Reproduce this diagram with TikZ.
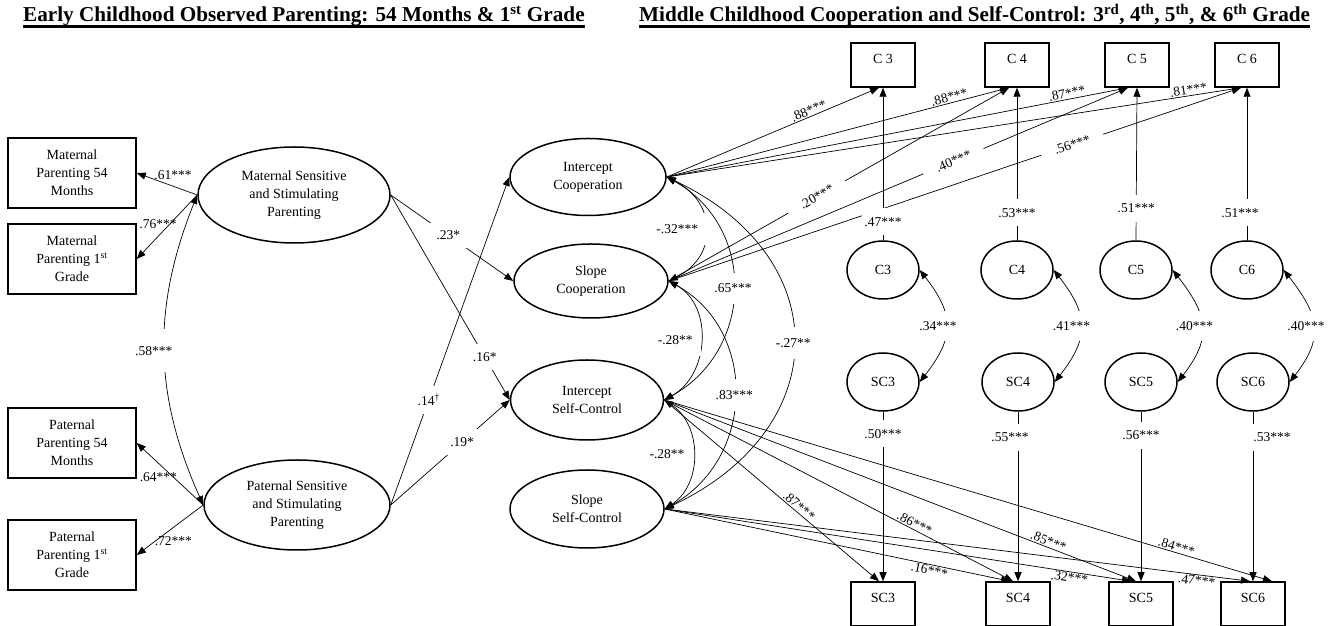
\documentclass[tikz,border=0pt]{standalone}
\usepackage{fontspec}
\setmainfont{Liberation Serif}
\usetikzlibrary{shapes.geometric, arrows.meta, positioning}

\begin{document}
\begin{tikzpicture}[x=1pt, y=1pt,
    heading/.style={font=\fontsize{21.2}{24}\selectfont\bfseries, inner sep=0pt},
    meas/.style={draw, line width=1.5pt, minimum width=128pt, minimum height=70pt, align=center, inner sep=0pt, font=\fontsize{14}{18}\selectfont},
    ind/.style={draw, line width=1.5pt, minimum width=64pt, minimum height=44pt, inner sep=0pt, text depth=13pt, font=\fontsize{14}{18}\selectfont},
    fac/.style={draw, line width=1.5pt, ellipse, align=center, inner sep=0pt, font=\fontsize{14}{18}\selectfont},
    res/.style={draw, line width=1.5pt, ellipse, minimum width=72pt, minimum height=58pt, inner sep=0pt, font=\fontsize{14}{18}\selectfont},
    arr/.style={-{Triangle[length=9pt,width=7pt]}, line width=0.7pt},
    cov/.style={{Triangle[length=9pt,width=7pt]}-{Triangle[length=9pt,width=7pt]}, line width=0.7pt},
    coef/.style={font=\fontsize{13.5}{15}\selectfont, inner sep=1pt},
    gap/.style={coef, fill=white, inner sep=8pt},
    gapc/.style={coef, fill=white, inner xsep=3pt, inner ysep=11pt},
    gapl/.style={coef, fill=white, inner xsep=14pt, inner ysep=2pt},
    gapv/.style={coef, fill=white, inner xsep=2pt, inner ysep=9pt}
  ]
  \useasboundingbox (0,0) rectangle (1328,626);

  % Headings
  \node[heading, anchor=base west] (t1) at (23,604) {Early Childhood Observed Parenting: 54 Months \& 1\textsuperscript{st} Grade};
  \node[heading, anchor=base west] (t2) at (639,604) {Middle Childhood Cooperation and Self-Control: 3\textsuperscript{rd}, 4\textsuperscript{th}, 5\textsuperscript{th}, \& 6\textsuperscript{th} Grade};
  \draw[line width=2.4pt] ([yshift=-4.5pt]t1.base west) -- ([yshift=-4.5pt]t1.base east);
  \draw[line width=2.4pt] ([yshift=-4.5pt]t2.base west) -- ([yshift=-4.5pt]t2.base east);

  % Observed parenting
  \node[meas] (m54) at (72,453) {Maternal\\Parenting 54\\Months};
  \node[meas] (m1) at (72,367) {Maternal\\Parenting 1\textsuperscript{st}\\Grade};
  \node[meas] (p54) at (72,183) {Paternal\\Parenting 54\\Months};
  \node[meas] (p1) at (72,71) {Paternal\\Parenting 1\textsuperscript{st}\\Grade};

  % Parenting factors
  \node[fac, minimum width=192pt, minimum height=96pt] (mat) at (294,431) {Maternal Sensitive\\and Stimulating\\Parenting};
  \node[fac, minimum width=186pt, minimum height=90pt] (pat) at (297,121) {Paternal Sensitive\\and Stimulating\\Parenting};

  % Growth factors
  \node[fac, minimum width=156pt, minimum height=77pt] (ic) at (588,449) {Intercept\\Cooperation};
  \node[fac, minimum width=154pt, minimum height=74pt] (scoop) at (591,345) {Slope\\Cooperation};
  \node[fac, minimum width=153pt, minimum height=80pt] (isc) at (587,226) {Intercept\\Self-Control};
  \node[fac, minimum width=154pt, minimum height=78pt] (ssc) at (587,117) {Slope\\Self-Control};

  % Indicators and residuals
  \node[ind] (c3) at (883,561) {C 3};
  \node[ind] (c4) at (1017,561) {C 4};
  \node[ind] (c5) at (1137,561) {C 5};
  \node[ind] (c6) at (1247,561) {C 6};
  \node[res] (e3) at (883,356) {C3};
  \node[res] (e4) at (1017,356) {C4};
  \node[res] (e5) at (1136,356) {C5};
  \node[res] (e6) at (1247,356) {C6};
  \node[res] (s3) at (883,244) {SC3};
  \node[res] (s4) at (1018,244) {SC4};
  \node[res] (s5) at (1141,244) {SC5};
  \node[res] (s6) at (1253,244) {SC6};
  \node[ind] (sc3) at (883,22) {SC3};
  \node[ind] (sc4) at (1018,22) {SC4};
  \node[ind] (sc5) at (1141,22) {SC5};
  \node[ind] (sc6) at (1253,22) {SC6};

  % Loadings of parenting
  \draw[arr] (mat.west) -- (m54.east) node[coef, pos=.4, above=5pt] {.61***};
  \draw[arr] (mat.west) -- (m1.east) node[coef, pos=.45, xshift=-12pt] {.76***};
  \draw[arr] (pat.west) -- (p54.east) node[coef, pos=.45, xshift=-15pt] {.64***};
  \draw[arr] (pat.west) -- (p1.east) node[coef, pos=.45, below=8pt] {.72***};
  \draw[cov] (mat.west) to[bend right=23] node[gap, midway, xshift=-11pt, inner xsep=3pt, inner ysep=17pt] {.58***} (pat.west);

  % Paths to growth factors
  \draw[arr] (mat.east) -- (scoop.west) node[gap, pos=.47] {.23*};
  \draw[arr] (mat.east) -- (isc.west) node[gap, pos=.79] {.16*};
  \draw[arr] (pat.east) -- (ic.west) node[gap, pos=.32] {.14\textsuperscript{\textdagger}};
  \draw[arr] (pat.east) -- (isc.west) node[gap, pos=.6] {.19*};

  % Growth factor covariances
  \draw[cov] (ic.east) .. controls +(50,-25) and +(50,25) .. (scoop.east) node[gapc, midway, xshift=-28pt, inner xsep=10pt] {-.32***};
  \draw[cov] (ic.east) .. controls +(90,-50) and +(90,50) .. (isc.east) node[gapc, midway] {.65***};
  \draw[cov] (scoop.east) .. controls +(45,-25) and +(45,25) .. (isc.east) node[gapc, midway, xshift=-25pt, inner xsep=8pt] {-.28**};
  \draw[cov] (scoop.east) .. controls +(90,-50) and +(90,50) .. (ssc.east) node[gapc, midway] {.83***};
  \draw[cov] (ic.east) .. controls +(170,-80) and +(170,80) .. (ssc.east) node[gapc, midway] {-.27**};
  \draw[cov] (isc.east) .. controls +(38,-25) and +(38,25) .. (ssc.east) node[gapc, midway, xshift=-26pt, inner xsep=8pt] {-.28**};

  % Cooperation loadings
  \draw[arr] (ic.east) -- ([xshift=-4pt]c3.south) node[coef, pos=.68, sloped, above] {.88***};
  \draw[arr] (ic.east) -- ([xshift=-8pt]c4.south) node[coef, pos=.83, sloped, above] {.88***};
  \draw[arr] (ic.east) -- ([xshift=-9pt]c5.south) node[coef, pos=.87, sloped, above] {.87***};
  \draw[arr] (ic.east) -- ([xshift=-6pt]c6.south) node[coef, pos=.91, sloped, above] {.81***};
  \draw[arr] (scoop.east) -- ([xshift=-8pt]c4.south) node[gapl, pos=.435, sloped] {.20***};
  \draw[arr] (scoop.east) -- ([xshift=-9pt]c5.south) node[gapl, pos=.62, sloped] {.40***};
  \draw[arr] (scoop.east) -- ([xshift=-6pt]c6.south) node[gapl, pos=.705, sloped] {.56***};

  % Self-control loadings
  \draw[arr] (isc.east) -- ([xshift=-4pt]sc3.north) node[coef, pos=.61, sloped, above] {.87***};
  \draw[arr] (isc.east) -- ([xshift=-5pt]sc4.north) node[coef, pos=.71, sloped, above] {.86***};
  \draw[arr] (isc.east) -- ([xshift=-5pt]sc5.north) node[coef, pos=.81, sloped, above] {.85***};
  \draw[arr] (isc.east) -- ([xshift=19pt]sc6.north) node[coef, pos=.84, sloped, above] {.84***};
  \draw[arr] (ssc.east) -- ([xshift=-8pt]sc4.north) node[coef, pos=.77, sloped, below] {.16***};
  \draw[arr] (ssc.east) -- ([xshift=-10pt]sc5.north) node[coef, pos=.87, sloped, below] {.32***};
  \draw[arr] (ssc.east) -- ([xshift=-3pt]sc6.north) node[coef, pos=.91, sloped, below] {.47***};

  % Residual loadings
  \draw[arr] (e3.north) -- (c3.south) node[gapv, pos=.12] {.47***};
  \draw[arr] (e4.north) -- (c4.south) node[gapv, pos=.18] {.53***};
  \draw[arr] (e5.north) -- (c5.south) node[gapv, pos=.21] {.51***};
  \draw[arr] (e6.north) -- (c6.south) node[gapv, pos=.18, xshift=-7pt] {.51***};
  \draw[arr] (s3.south) -- (sc3.north) node[gapv, pos=.13] {.50***};
  \draw[arr] (s4.south) -- (sc4.north) node[gapv, pos=.15, xshift=-8pt] {.55***};
  \draw[arr] (s5.south) -- (sc5.north) node[gapv, pos=.14] {.56***};
  \draw[arr] (s6.south) -- (sc6.north) node[gapv, pos=.15, xshift=19pt] {.53***};

  % Residual correlations
  \draw[cov] (e3.east) .. controls +(35,-45) and +(35,45) .. (s3.east) node[gapc, midway, xshift=-8pt, inner ysep=10pt] {.34***};
  \draw[cov] (e4.east) .. controls +(35,-45) and +(35,45) .. (s4.east) node[gapc, midway, xshift=-9pt, inner ysep=10pt] {.41***};
  \draw[cov] (e5.east) .. controls +(35,-45) and +(35,45) .. (s5.east) node[gapc, midway, xshift=-7pt, inner ysep=10pt] {.40***};
  \draw[cov] (e6.east) .. controls +(35,-45) and +(35,45) .. (s6.east) node[gapc, midway, xshift=-7pt, inner ysep=10pt] {.40***};
\end{tikzpicture}
\end{document}
